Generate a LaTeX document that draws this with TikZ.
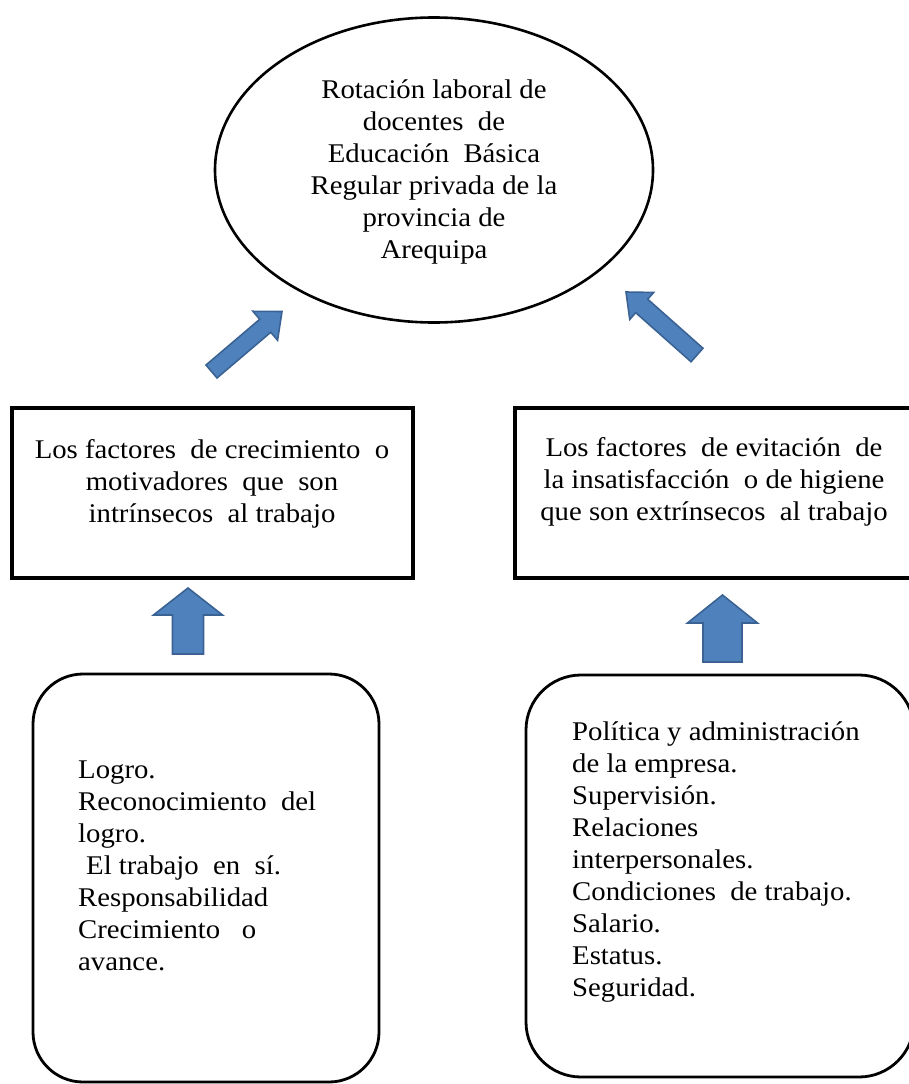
\documentclass[tikz,border=0pt]{standalone}
\usepackage{fontspec}
\setmainfont{Liberation Serif}[FakeStretch=1.065]
\usetikzlibrary{shapes.geometric,calc}
\definecolor{arrowfill}{HTML}{4F81BD}
\definecolor{arrowline}{HTML}{3A6394}
\newcommand{\blockarrow}[5]{%
  \path ($(#2)!#5!(#1)$) coordinate (bahead);
  \filldraw[barrow] ($(#1)!#3!90:(#2)$) -- ($(bahead)!#3!90:(#2)$) -- ($(bahead)!#4!90:(#2)$) -- (#2)
    -- ($(bahead)!#4!-90:(#2)$) -- ($(bahead)!#3!-90:(#2)$) -- ($(#1)!#3!-90:(#2)$) -- cycle;}
\tikzset{
  barrow/.style={fill=arrowfill, draw=arrowline, line width=1.6pt, line join=miter},
  goalshape/.style={ellipse, draw, line width=2.6pt, inner sep=0pt},
  factorbox/.style={rectangle, draw, line width=3.2pt, inner sep=0pt, minimum height=170pt},
  listbox/.style={rectangle, draw, line width=2.8pt, inner sep=0pt},
  txt/.style={inner sep=0pt, font=\fontsize{27}{32}\selectfont},
}
\begin{document}
\begin{tikzpicture}[x=1pt,y=-1pt]
\useasboundingbox (0,0) rectangle (909,1084);
\fill[white] (0,0) rectangle (909,1084);
% shapes
\node[goalshape, minimum width=438pt, minimum height=305pt] (goal) at (434,170) {};
\node[factorbox, minimum width=401pt] (f1) at (212.5,493) {};
\node[factorbox, minimum width=399pt] (f2) at (714.5,493) {};
\node[listbox, rounded corners=50pt, minimum width=346pt, minimum height=408pt] (l1) at (206,878) {};
\node[listbox, rounded corners=55pt, minimum width=388pt, minimum height=402pt] (l2) at (720,876) {};
% texts
\node[txt, align=center] (t0) at (434,172) {Rotación laboral de\\docentes\ \ de\\Educación\ \ Básica\\Regular privada de la\\provincia de\\Arequipa};
\node[txt, align=center] (t1) at (212,484) {Los factores\ \ de crecimiento\ \ o\\motivadores\ \ que\ \ son\\intrínsecos\ \ al trabajo};
\node[txt, align=center] (t2) at (714,482) {Los factores\ \ de evitación\ \ de\\la insatisfacción\ \ o de higiene\\que son extrínsecos\ \ al trabajo};
\node[txt, align=left, anchor=west] (t3) at (78,866) {Logro.\\Reconocimiento\ \ del\\logro.\\\hspace{8pt}El trabajo\ \ en\ \ sí.\\Responsabilidad\\Crecimiento\ \ \ o\\avance.};
\node[txt, align=left, anchor=west] (t4) at (572,862) {Política y administración\\de la empresa.\\Supervisión.\\Relaciones\\interpersonales.\\Condiciones\ \ de trabajo.\\Salario.\\Estatus.\\Seguridad.};
% arrows
\coordinate (a1s) at (211.5,371.5);
\coordinate (a1e) at (282,311.5);
\coordinate (a2s) at (697,355);
\coordinate (a2e) at (626,292);
\coordinate (a3s) at (188,654);
\coordinate (a3e) at (188,588);
\coordinate (a4s) at (722.5,662);
\coordinate (a4e) at (722.5,595);
\blockarrow{a1s}{a1e}{8.5pt}{19pt}{22pt}
\blockarrow{a2s}{a2e}{9pt}{18pt}{21pt}
\blockarrow{a3s}{a3e}{15.5pt}{34.5pt}{27pt}
\blockarrow{a4s}{a4e}{19.5pt}{35pt}{28pt}
\end{tikzpicture}
\end{document}
